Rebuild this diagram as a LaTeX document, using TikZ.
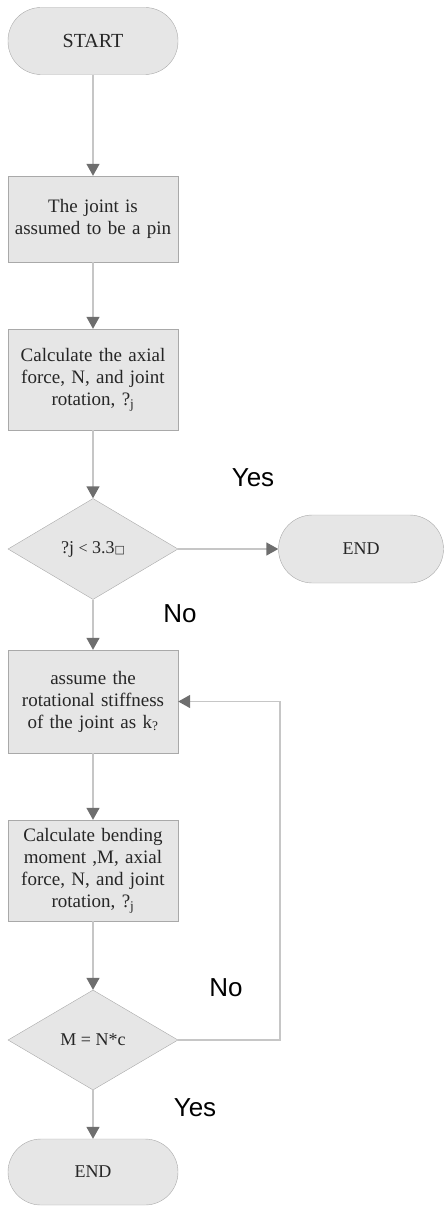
\documentclass[tikz,border=0pt]{standalone}
\usepackage{fontspec}
\setmainfont{Liberation Serif}
\newfontfamily\labelfont{Liberation Sans}
\newfontfamily\symfont{DejaVu Sans}
\usepackage{tikz}
\usetikzlibrary{arrows.meta, shapes.geometric, calc}
\definecolor{boxfill}{HTML}{E6E6E6}
\definecolor{boxline}{HTML}{A9A9A9}
\definecolor{linegray}{HTML}{C6C6C6}
\definecolor{tipgray}{HTML}{6E6E6E}
\tikzset{>={Triangle[width=13pt,length=12pt,color=tipgray]}}
\tikzset{
  term/.style = {draw=boxline, fill=boxfill, rounded corners=33pt, minimum width=170pt,
                 minimum height=67pt, font=\fontsize{18}{21}\selectfont, text=black!85},
  proc/.style = {draw=boxline, fill=boxfill, minimum width=170pt, text width=160pt,
                 align=center, inner sep=0pt, font=\fontsize{19}{22}\selectfont, text=black!85},
  dec/.style  = {draw=boxline, fill=boxfill, diamond, inner sep=0pt, minimum width=170pt,
                 minimum height=101pt, font=\fontsize{18}{20}\selectfont, text=black!85},
  conn/.style = {draw=linegray, line width=1.5pt, ->},
  answer/.style = {font=\labelfont\fontsize{26}{28}\selectfont, text=black}
}

\begin{document}
\begin{tikzpicture}[x=1pt, y=-1pt]
\useasboundingbox (0,0) rectangle (444,1206);

% main column
\node[term, font=\fontsize{20}{22}\selectfont] (start) at (93, 41) {START};
\node[proc, minimum height=86pt] (pin) at (93, 219) {The joint is\\assumed to be a pin};
\node[proc, minimum height=101pt] (axial) at (93, 379.5) {Calculate the axial\\force, N, and joint\\rotation, ?\textsubscript{j}};
\node[dec] (check) at (93, 549) {?j {\fontsize{16}{18}\selectfont<} 3.3{\symfont\fontsize{11}{12}\selectfont □}};
\node[term, minimum width=165pt, minimum height=68pt, rounded corners=34pt] (stop) at (361, 549) {END};
\node[proc, minimum height=103pt] (stiff) at (93, 701.5) {assume the\\rotational stiffness\\of the joint as k\textsubscript{?}};
\node[proc, minimum height=101pt] (bend) at (93, 870.5) {Calculate bending\\moment ,M, axial\\force, N, and joint\\rotation, ?\textsubscript{j}};
\node[dec, minimum height=100pt] (moment) at (93, 1040) {M = N*c};
\node[term, minimum height=66pt] (finish) at (93, 1172) {END};

% answers
\node[answer] (yes1) at (253, 478) {Yes};
\node[answer] (no1) at (180, 614) {No};
\node[answer] (no2) at (226, 988) {No};
\node[answer] (yes2) at (195, 1108) {Yes};

% connectors
\draw[conn] (start) -- (pin);
\draw[conn] (pin) -- (axial);
\draw[conn] (axial) -- (check);
\draw[conn] (check) -- (stop);
\draw[conn] (check) -- (stiff);
\draw[conn] (stiff) -- (bend);
\draw[conn] (bend) -- (moment);
\draw[conn] (moment) -- (finish);
\draw[conn] (moment.east) -- ++(102,0) |- (stiff.east);
\end{tikzpicture}
\end{document}
